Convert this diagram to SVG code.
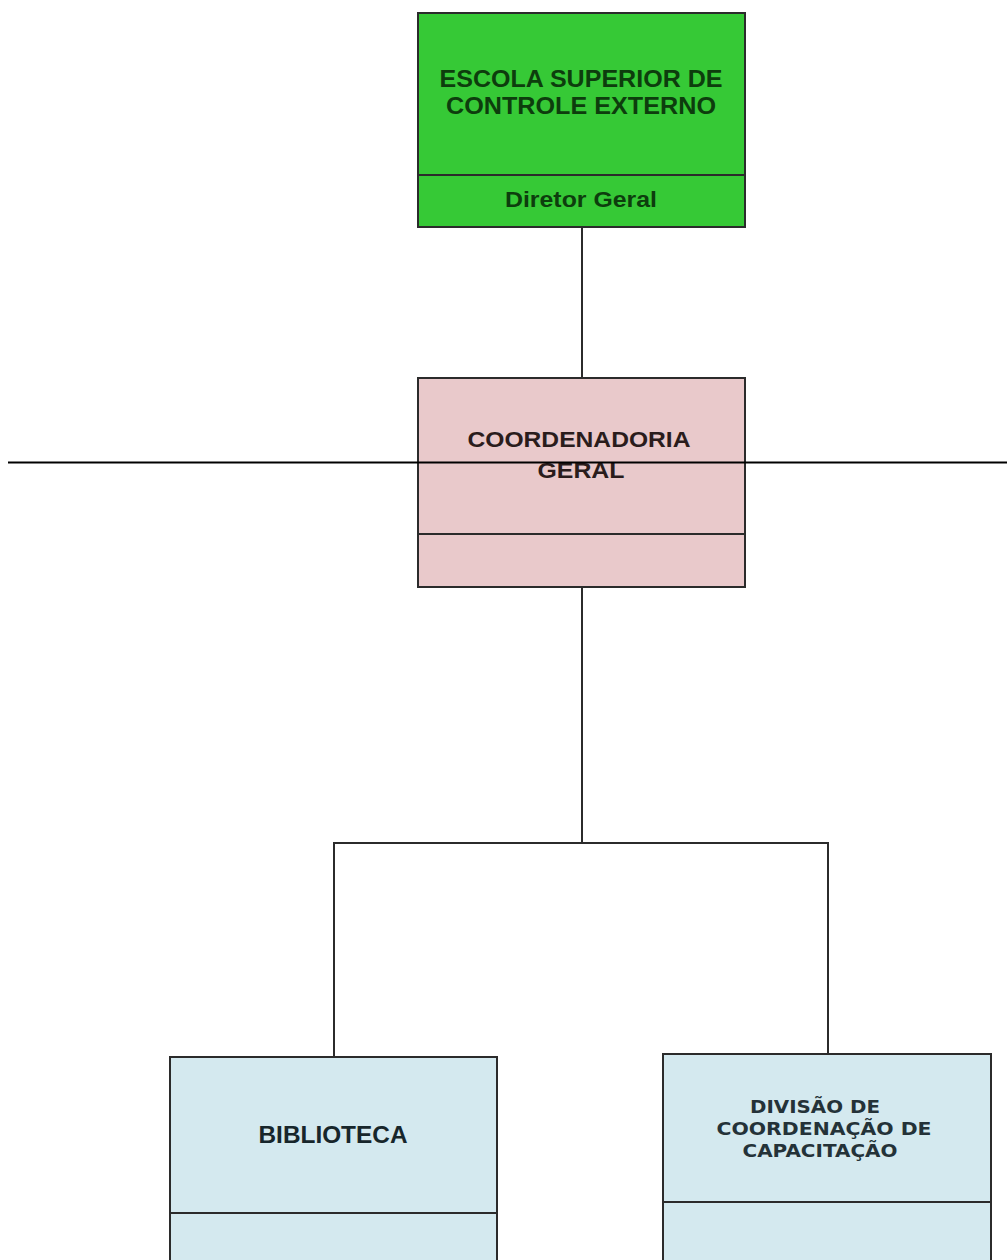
<svg xmlns="http://www.w3.org/2000/svg" width="1007" height="1260" viewBox="0 0 1007 1260">
  <style>
    .box { stroke: #2b2b2b; stroke-width: 2; }
    .div { stroke: #2b2b2b; stroke-width: 2; }
    .wire { fill: none; stroke: #2b2b2b; stroke-width: 2; }
    .lbl { font-family: "Liberation Sans", Arial, sans-serif; font-weight: bold; text-anchor: middle; }
    .mono { font-family: "DejaVu Sans", Verdana, sans-serif; font-weight: bold; text-anchor: middle; }
  </style>
  <rect x="0" y="0" width="1007" height="1260" fill="#ffffff"/>

  <!-- connectors -->
  <g id="connectors">
    <path class="wire" d="M582 227 V378"/>
    <path class="wire" d="M582 587 V843"/>
    <path class="wire" d="M334 1057 V843 H828 V1054"/>
  </g>

  <!-- top: school / director -->
  <g id="node-escola">
    <rect class="box" x="418" y="13" width="327" height="214" fill="#36c936"/>
    <line class="div" x1="418" y1="175" x2="745" y2="175"/>
    <text class="lbl" x="581" y="87" font-size="23.5" fill="#0d3d0d" textLength="283" lengthAdjust="spacingAndGlyphs">ESCOLA SUPERIOR DE</text>
    <text class="lbl" x="581" y="114" font-size="23.5" fill="#0d3d0d" textLength="270" lengthAdjust="spacingAndGlyphs">CONTROLE EXTERNO</text>
    <text class="lbl" x="581" y="207" font-size="21.5" fill="#0d3d0d" textLength="152" lengthAdjust="spacingAndGlyphs">Diretor Geral</text>
  </g>

  <!-- general coordination -->
  <g id="node-coordenadoria">
    <rect class="box" x="418" y="378" width="327" height="209" fill="#e9c9cb"/>
    <line class="div" x1="418" y1="534" x2="745" y2="534"/>
    <text class="lbl" x="579" y="447" font-size="22" fill="#2a1c1c" textLength="223" lengthAdjust="spacingAndGlyphs">COORDENADORIA</text>
    <text class="lbl" x="581" y="478" font-size="22" fill="#2a1c1c" textLength="87" lengthAdjust="spacingAndGlyphs">GERAL</text>
  </g>

  <!-- library -->
  <g id="node-biblioteca">
    <rect class="box" x="170" y="1057" width="327" height="220" fill="#d4e9ef"/>
    <line class="div" x1="170" y1="1213" x2="497" y2="1213"/>
    <text class="lbl" x="333" y="1143" font-size="23" fill="#17262b" textLength="149" lengthAdjust="spacingAndGlyphs">BIBLIOTECA</text>
  </g>

  <!-- training division -->
  <g id="node-divisao">
    <rect class="box" x="663" y="1054" width="328" height="220" fill="#d4e9ef"/>
    <line class="div" x1="663" y1="1202" x2="991" y2="1202"/>
    <text class="mono" x="815" y="1113" font-size="17" fill="#243238" textLength="130" lengthAdjust="spacingAndGlyphs">DIVISÃO DE</text>
    <text class="mono" x="824" y="1135" font-size="17" fill="#243238" textLength="215" lengthAdjust="spacingAndGlyphs">COORDENAÇÃO DE</text>
    <text class="mono" x="820" y="1157" font-size="17" fill="#243238" textLength="155" lengthAdjust="spacingAndGlyphs">CAPACITAÇÃO</text>
  </g>

  <!-- horizontal rule across the page -->
  <line x1="8" y1="462.5" x2="1007" y2="462.5" stroke="#000000" stroke-width="2.2"/>
</svg>
